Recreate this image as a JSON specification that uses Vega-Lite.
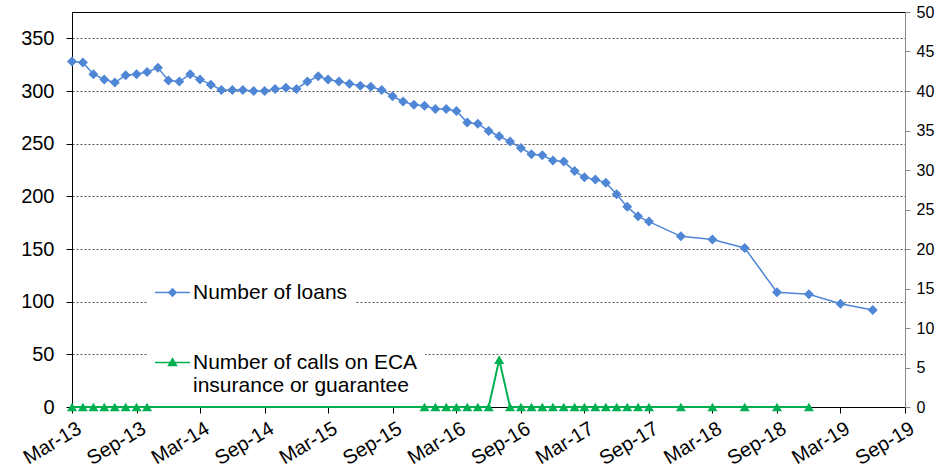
{
  "$schema": "https://vega.github.io/schema/vega-lite/v6.json",
  "width": 833,
  "height": 395,
  "autosize": "none",
  "padding": {"left": 72, "top": 12, "right": 32, "bottom": 69},
  "background": "white",
  "config": {
    "font": "Liberation Sans",
    "view": {"stroke": "black", "strokeWidth": 1},
    "axis": {"labelFont": "Liberation Sans", "labelColor": "black", "title": null},
    "legend": {"labelFont": "Liberation Sans", "labelFontSize": 21, "labelColor": "black", "labelLimit": 600, "labelOffset": 3, "padding": 7, "fillColor": "white", "symbolSize": 1225, "symbolStrokeWidth": 0, "orient": "none", "direction": "vertical"}
  },
  "data": {
    "values": [
      {"date": "2013-03-01", "series": "Number of loans", "value": 328},
      {"date": "2013-04-01", "series": "Number of loans", "value": 327},
      {"date": "2013-05-01", "series": "Number of loans", "value": 316},
      {"date": "2013-06-01", "series": "Number of loans", "value": 311},
      {"date": "2013-07-01", "series": "Number of loans", "value": 308},
      {"date": "2013-08-01", "series": "Number of loans", "value": 315},
      {"date": "2013-09-01", "series": "Number of loans", "value": 316},
      {"date": "2013-10-01", "series": "Number of loans", "value": 318},
      {"date": "2013-11-01", "series": "Number of loans", "value": 322},
      {"date": "2013-12-01", "series": "Number of loans", "value": 310},
      {"date": "2014-01-01", "series": "Number of loans", "value": 309},
      {"date": "2014-02-01", "series": "Number of loans", "value": 316},
      {"date": "2014-03-01", "series": "Number of loans", "value": 311},
      {"date": "2014-04-01", "series": "Number of loans", "value": 306},
      {"date": "2014-05-01", "series": "Number of loans", "value": 301},
      {"date": "2014-06-01", "series": "Number of loans", "value": 301},
      {"date": "2014-07-01", "series": "Number of loans", "value": 301},
      {"date": "2014-08-01", "series": "Number of loans", "value": 300},
      {"date": "2014-09-01", "series": "Number of loans", "value": 300},
      {"date": "2014-10-01", "series": "Number of loans", "value": 302},
      {"date": "2014-11-01", "series": "Number of loans", "value": 303},
      {"date": "2014-12-01", "series": "Number of loans", "value": 302},
      {"date": "2015-01-01", "series": "Number of loans", "value": 309},
      {"date": "2015-02-01", "series": "Number of loans", "value": 314},
      {"date": "2015-03-01", "series": "Number of loans", "value": 311},
      {"date": "2015-04-01", "series": "Number of loans", "value": 309},
      {"date": "2015-05-01", "series": "Number of loans", "value": 307},
      {"date": "2015-06-01", "series": "Number of loans", "value": 305},
      {"date": "2015-07-01", "series": "Number of loans", "value": 304},
      {"date": "2015-08-01", "series": "Number of loans", "value": 301},
      {"date": "2015-09-01", "series": "Number of loans", "value": 295},
      {"date": "2015-10-01", "series": "Number of loans", "value": 290},
      {"date": "2015-11-01", "series": "Number of loans", "value": 287},
      {"date": "2015-12-01", "series": "Number of loans", "value": 286},
      {"date": "2016-01-01", "series": "Number of loans", "value": 283},
      {"date": "2016-02-01", "series": "Number of loans", "value": 283},
      {"date": "2016-03-01", "series": "Number of loans", "value": 281},
      {"date": "2016-04-01", "series": "Number of loans", "value": 270},
      {"date": "2016-05-01", "series": "Number of loans", "value": 269},
      {"date": "2016-06-01", "series": "Number of loans", "value": 262},
      {"date": "2016-07-01", "series": "Number of loans", "value": 257},
      {"date": "2016-08-01", "series": "Number of loans", "value": 252},
      {"date": "2016-09-01", "series": "Number of loans", "value": 246},
      {"date": "2016-10-01", "series": "Number of loans", "value": 240},
      {"date": "2016-11-01", "series": "Number of loans", "value": 239},
      {"date": "2016-12-01", "series": "Number of loans", "value": 234},
      {"date": "2017-01-01", "series": "Number of loans", "value": 233},
      {"date": "2017-02-01", "series": "Number of loans", "value": 224},
      {"date": "2017-03-01", "series": "Number of loans", "value": 218},
      {"date": "2017-04-01", "series": "Number of loans", "value": 216},
      {"date": "2017-05-01", "series": "Number of loans", "value": 213},
      {"date": "2017-06-01", "series": "Number of loans", "value": 202},
      {"date": "2017-07-01", "series": "Number of loans", "value": 190},
      {"date": "2017-08-01", "series": "Number of loans", "value": 181},
      {"date": "2017-09-01", "series": "Number of loans", "value": 176},
      {"date": "2017-12-01", "series": "Number of loans", "value": 162},
      {"date": "2018-03-01", "series": "Number of loans", "value": 159},
      {"date": "2018-06-01", "series": "Number of loans", "value": 151},
      {"date": "2018-09-01", "series": "Number of loans", "value": 109},
      {"date": "2018-12-01", "series": "Number of loans", "value": 107},
      {"date": "2019-03-01", "series": "Number of loans", "value": 98},
      {"date": "2019-06-01", "series": "Number of loans", "value": 92},
      {"date": "2013-03-01", "series": "Number of calls on ECA insurance or guarantee", "value": 0},
      {"date": "2013-04-01", "series": "Number of calls on ECA insurance or guarantee", "value": 0},
      {"date": "2013-05-01", "series": "Number of calls on ECA insurance or guarantee", "value": 0},
      {"date": "2013-06-01", "series": "Number of calls on ECA insurance or guarantee", "value": 0},
      {"date": "2013-07-01", "series": "Number of calls on ECA insurance or guarantee", "value": 0},
      {"date": "2013-08-01", "series": "Number of calls on ECA insurance or guarantee", "value": 0},
      {"date": "2013-09-01", "series": "Number of calls on ECA insurance or guarantee", "value": 0},
      {"date": "2013-10-01", "series": "Number of calls on ECA insurance or guarantee", "value": 0},
      {"date": "2015-12-01", "series": "Number of calls on ECA insurance or guarantee", "value": 0},
      {"date": "2016-01-01", "series": "Number of calls on ECA insurance or guarantee", "value": 0},
      {"date": "2016-02-01", "series": "Number of calls on ECA insurance or guarantee", "value": 0},
      {"date": "2016-03-01", "series": "Number of calls on ECA insurance or guarantee", "value": 0},
      {"date": "2016-04-01", "series": "Number of calls on ECA insurance or guarantee", "value": 0},
      {"date": "2016-05-01", "series": "Number of calls on ECA insurance or guarantee", "value": 0},
      {"date": "2016-06-01", "series": "Number of calls on ECA insurance or guarantee", "value": 0},
      {"date": "2016-07-01", "series": "Number of calls on ECA insurance or guarantee", "value": 6},
      {"date": "2016-08-01", "series": "Number of calls on ECA insurance or guarantee", "value": 0},
      {"date": "2016-09-01", "series": "Number of calls on ECA insurance or guarantee", "value": 0},
      {"date": "2016-10-01", "series": "Number of calls on ECA insurance or guarantee", "value": 0},
      {"date": "2016-11-01", "series": "Number of calls on ECA insurance or guarantee", "value": 0},
      {"date": "2016-12-01", "series": "Number of calls on ECA insurance or guarantee", "value": 0},
      {"date": "2017-01-01", "series": "Number of calls on ECA insurance or guarantee", "value": 0},
      {"date": "2017-02-01", "series": "Number of calls on ECA insurance or guarantee", "value": 0},
      {"date": "2017-03-01", "series": "Number of calls on ECA insurance or guarantee", "value": 0},
      {"date": "2017-04-01", "series": "Number of calls on ECA insurance or guarantee", "value": 0},
      {"date": "2017-05-01", "series": "Number of calls on ECA insurance or guarantee", "value": 0},
      {"date": "2017-06-01", "series": "Number of calls on ECA insurance or guarantee", "value": 0},
      {"date": "2017-07-01", "series": "Number of calls on ECA insurance or guarantee", "value": 0},
      {"date": "2017-08-01", "series": "Number of calls on ECA insurance or guarantee", "value": 0},
      {"date": "2017-09-01", "series": "Number of calls on ECA insurance or guarantee", "value": 0},
      {"date": "2017-12-01", "series": "Number of calls on ECA insurance or guarantee", "value": 0},
      {"date": "2018-03-01", "series": "Number of calls on ECA insurance or guarantee", "value": 0},
      {"date": "2018-06-01", "series": "Number of calls on ECA insurance or guarantee", "value": 0},
      {"date": "2018-09-01", "series": "Number of calls on ECA insurance or guarantee", "value": 0},
      {"date": "2018-12-01", "series": "Number of calls on ECA insurance or guarantee", "value": 0}
    ]
  },
  "encoding": {
    "x": {
      "field": "date",
      "type": "temporal",
      "scale": {"type": "utc", "domain": [{"year": 2013, "month": 3, "date": 1, "utc": true}, {"year": 2019, "month": 9, "date": 1, "utc": true}]},
      "axis": {
        "values": [
          {"year": 2013, "month": 3, "date": 1, "utc": true},
          {"year": 2013, "month": 9, "date": 1, "utc": true},
          {"year": 2014, "month": 3, "date": 1, "utc": true},
          {"year": 2014, "month": 9, "date": 1, "utc": true},
          {"year": 2015, "month": 3, "date": 1, "utc": true},
          {"year": 2015, "month": 9, "date": 1, "utc": true},
          {"year": 2016, "month": 3, "date": 1, "utc": true},
          {"year": 2016, "month": 9, "date": 1, "utc": true},
          {"year": 2017, "month": 3, "date": 1, "utc": true},
          {"year": 2017, "month": 9, "date": 1, "utc": true},
          {"year": 2018, "month": 3, "date": 1, "utc": true},
          {"year": 2018, "month": 9, "date": 1, "utc": true},
          {"year": 2019, "month": 3, "date": 1, "utc": true},
          {"year": 2019, "month": 9, "date": 1, "utc": true}
        ],
        "format": "%b-%y",
        "labelAngle": -31,
        "labelFontSize": 20,
        "labelPadding": 5,
        "labelOffset": 2,
        "tickSize": 6,
        "tickColor": "black",
        "domainColor": "black",
        "grid": false,
        "labelOverlap": false,
        "labelBound": false,
        "labelFlush": false
      }
    }
  },
  "layer": [
    {
      "transform": [{"filter": "datum.series == 'Number of loans'"}],
      "encoding": {
        "y": {
          "field": "value",
          "type": "quantitative",
          "scale": {"domain": [0, 375], "nice": false},
          "axis": {
            "orient": "left",
            "values": [0, 50, 100, 150, 200, 250, 300, 350],
            "grid": true,
            "gridColor": "#555",
            "gridDash": [2, 2],
            "gridWidth": 1,
            "domainColor": "black",
            "tickColor": "black",
            "tickSize": 6,
            "labelFontSize": 20,
            "labelPadding": 12
          }
        }
      },
      "layer": [
        {"mark": {"type": "line", "color": "#4F87D6", "strokeWidth": 1.5}},
        {
          "mark": {"type": "point", "filled": true, "shape": "diamond", "size": 100, "opacity": 1},
          "encoding": {
            "color": {
              "field": "series",
              "type": "nominal",
              "scale": {"domain": ["Number of loans"], "range": ["#4F87D6"]},
              "legend": {
                "title": null,
                "legendX": 76,
                "legendY": 256,
                "symbolType": "M-1,-0.045L1,-0.045L1,0.045L-1,0.045Z M0,-0.27L0.27,0L0,0.27L-0.27,0Z",
                "symbolOpacity": 1,
                "labelExpr": "datum.label + '\u00a0\u00a0\u00a0\u00a0\u00a0\u00a0\u00a0\u00a0\u00a0\u00a0\u00a0\u00a0'"
              }
            }
          }
        }
      ]
    },
    {
      "transform": [{"filter": "datum.series != 'Number of loans'"}],
      "encoding": {
        "y": {
          "field": "value",
          "type": "quantitative",
          "scale": {"domain": [0, 50], "nice": false},
          "axis": {
            "orient": "right",
            "values": [0, 5, 10, 15, 20, 25, 30, 35, 40, 45, 50],
            "grid": false,
            "domainColor": "#888",
            "tickColor": "#888",
            "tickSize": 5,
            "labelFontSize": 16,
            "labelPadding": 6
          }
        }
      },
      "layer": [
        {"mark": {"type": "line", "color": "#00B050", "strokeWidth": 2}},
        {
          "mark": {"type": "point", "filled": true, "shape": "triangle-up", "size": 100, "opacity": 1},
          "encoding": {
            "fill": {
              "field": "series",
              "type": "nominal",
              "scale": {"domain": ["Number of calls on ECA insurance or guarantee"], "range": ["#00B050"]},
              "legend": {
                "title": null,
                "legendX": 76,
                "legendY": 326,
                "symbolType": "M-1,-0.045L1,-0.045L1,0.045L-1,0.045Z M0,-0.3L0.3,0.22L-0.3,0.22Z",
                "symbolOpacity": 1,
                "labelExpr": "['Number of calls on ECA', 'insurance or guarantee']"
              }
            }
          }
        }
      ]
    }
  ],
  "resolve": {"scale": {"y": "independent"}}
}
